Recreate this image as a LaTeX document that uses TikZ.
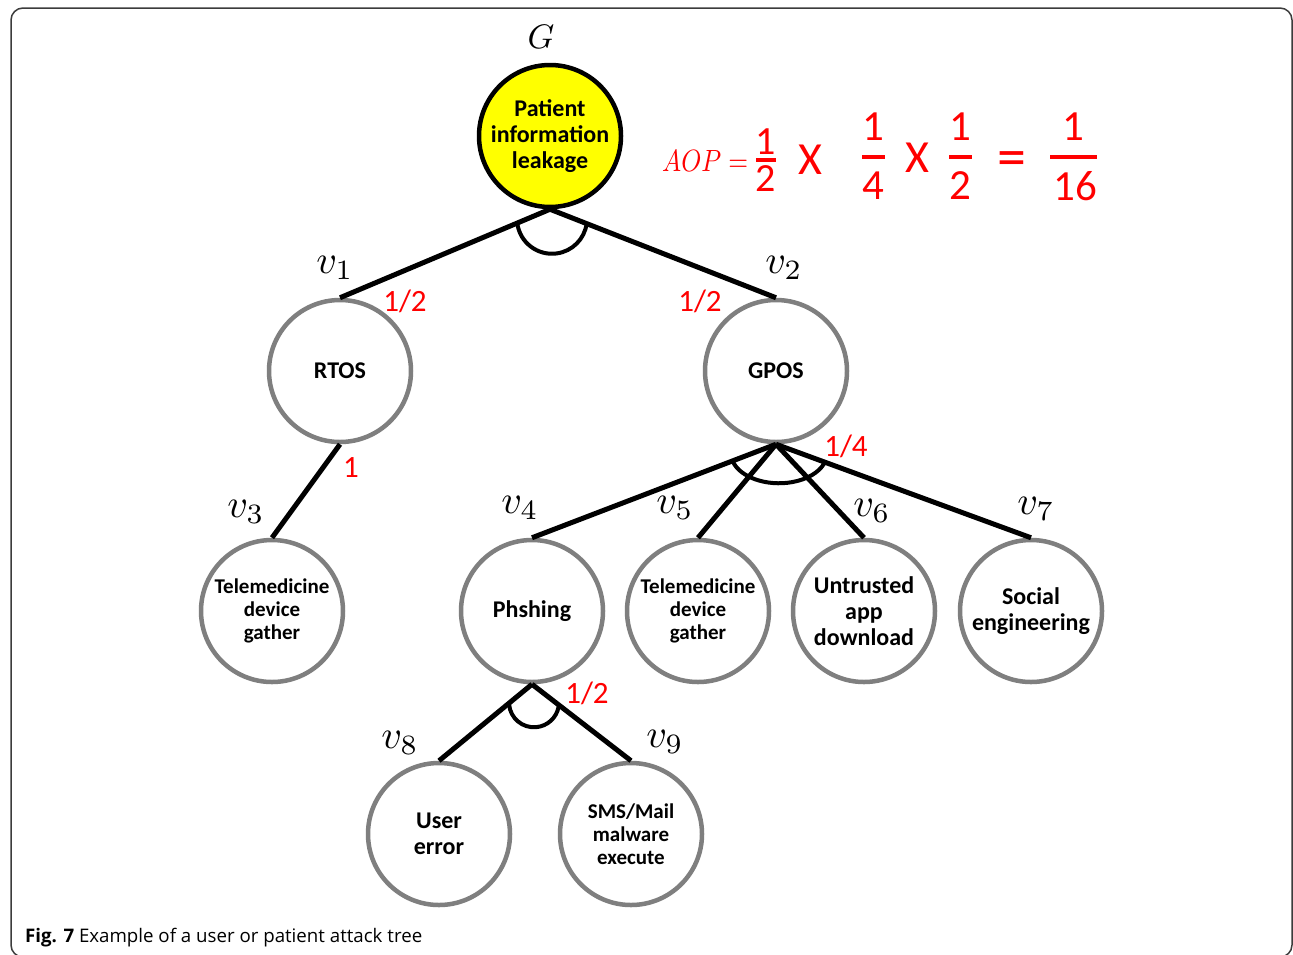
\documentclass[tikz,border=0pt]{standalone}
\usepackage{graphicx}
\usepackage{fontspec}
\setmainfont{Carlito}
\newfontfamily\capfont{Open Sans}
\usetikzlibrary{calc}

\definecolor{ringgray}{RGB}{127,127,127}
\definecolor{goalyellow}{RGB}{255,255,0}
\definecolor{probred}{RGB}{255,0,0}
\definecolor{framegray}{RGB}{60,60,60}

% math labels are set at 10pt and scaled up
\newcommand{\biglab}[2][4.0]{\scalebox{#1}{$#2$}}

\tikzset{
  goalnode/.style={circle, draw=black, line width=4.5pt, fill=goalyellow,
    minimum size=142pt, inner sep=0pt, align=center,
    font=\bfseries\fontsize{24}{26}\selectfont},
  attnode/.style={circle, draw=ringgray, line width=4.5pt, fill=white,
    minimum size=142pt, inner sep=0pt, align=center,
    font=\bfseries\fontsize{24}{26}\selectfont},
  smalltext/.style={font=\bfseries\fontsize{21}{23}\selectfont},
  edge/.style={line width=5pt, black},
  andarc/.style={line width=4pt, black},
  vlab/.style={inner sep=0pt, font=\fontsize{10}{12}\selectfont},
  prob/.style={inner sep=0pt, text=probred, font=\fontsize{31}{31}\selectfont},
  fdigit/.style={inner sep=0pt, text=probred, font=\fontsize{43}{43}\selectfont},
  fbar/.style={line width=4pt, probred},
}

\begin{document}
\begin{tikzpicture}[x=1pt, y=-1pt]
\useasboundingbox (0,0) rectangle (1293,954);
\clip (0,0) rectangle (1293,954);
\fill[white] (0,0) rectangle (1293,954);

% outer frame
\draw[framegray, line width=1.5pt, rounded corners=12pt] (11,8) rectangle (1292,957);

% tree nodes
\node[goalnode] (G) at (550,136) {Patient\\information\\leakage};
\node[attnode] (v1) at (340,371) {RTOS};
\node[attnode] (v2) at (776,371) {GPOS};
\node[attnode, smalltext] (v3) at (272,611) {Telemedicine\\device\\gather};
\node[attnode] (v4) at (532,611) {Phshing};
\node[attnode, smalltext] (v5) at (698,611) {Telemedicine\\device\\gather};
\node[attnode] (v6) at (864,611) {Untrusted\\app\\download};
\node[attnode] (v7) at (1031,611) {Social\\engineering};
\node[attnode] (v8) at (439,834) {User\\error};
\node[attnode, smalltext] (v9) at (631,834) {SMS/Mail\\malware\\execute};

% connectors
\draw[edge] (G.south) -- (v1.north);
\draw[edge] (G.south) -- (v2.north);
\draw[edge] (v1.south) -- (v3.north);
\draw[edge] (v2.south) -- (v4.north);
\draw[edge] (v2.south) -- (v5.north);
\draw[edge] (v2.south) -- (v6.north);
\draw[edge] (v2.south) -- (v7.north);
\draw[edge] (v4.south) -- (v8.north);
\draw[edge] (v4.south) -- (v9.north);

% AND arcs
\coordinate (gA) at ($(G.south)+(2,9.5)$);
\draw[andarc] ([shift={(188:35pt)}]gA) arc[start angle=188, end angle=352, radius=35pt];
\coordinate (gB) at ($(v2.south)+(3,9)$);
\draw[andarc] ([shift={(196:48pt and 30pt)}]gB) arc[start angle=196, end angle=340, x radius=48pt, y radius=30pt];
\coordinate (gC) at ($(v4.south)+(2,18)$);
\draw[andarc] ([shift={(185:25pt)}]gC) arc[start angle=185, end angle=350, radius=25pt];

% node labels
\node[vlab] (lG) at (541,37) {\biglab[3.4]{G}};
\node[vlab] (l1) at (335,268) {\biglab{v_1}};
\node[vlab] (l2) at (784,268) {\biglab{v_2}};
\node[vlab] (l3) at (246,512) {\biglab{v_3}};
\node[vlab] (l4) at (520,508) {\biglab{v_4}};
\node[vlab] (l5) at (675,508) {\biglab{v_5}};
\node[vlab] (l6) at (872,511) {\biglab{v_6}};
\node[vlab] (l7) at (1036,509) {\biglab{v_7}};
\node[vlab] (l8) at (400,743) {\biglab{v_8}};
\node[vlab] (l9) at (665,742) {\biglab{v_9}};

% probabilities
\node[prob] (p1) at (405,301) {1/2};
\node[prob] (p2) at (700,301) {1/2};
\node[prob] (p3) at (351,468) {1};
\node[prob] (p4) at (846,446) {1/4};
\node[prob] (p5) at (587,693) {1/2};

% AOP formula
\node[inner sep=0pt, anchor=base west, text=probred, font=\fontsize{10}{12}\selectfont] (aop) at (662,171)
  {\resizebox{86pt}{21pt}{$AOP=$}};
\node[fdigit, font=\fontsize{40}{40}\selectfont] (a1) at (766,142) {1};
\draw[fbar] (756,160) -- (776,160);
\node[fdigit, font=\fontsize{40}{40}\selectfont] (a2) at (766,179) {2};
\node[fdigit, font=\fontsize{46}{46}\selectfont] (x1) at (810,160) {X};
\node[fdigit] (b1) at (873,127) {1};
\draw[fbar] (862,157) -- (885,157);
\node[fdigit] (b2) at (873,186) {4};
\node[fdigit, font=\fontsize{46}{46}\selectfont] (x2) at (917,158) {X};
\node[fdigit] (c1) at (960,127) {1};
\draw[fbar] (949,157) -- (972,157);
\node[fdigit] (c2) at (960,186) {2};
\node[fdigit, font=\fontsize{58}{58}\selectfont] (eq) at (1012,164) {=};
\node[fdigit] (d1) at (1073,127) {1};
\draw[fbar] (1050,157) -- (1097,157);
\node[fdigit] (d2) at (1075,186) {16};

% caption
\node[inner sep=0pt, anchor=base west] (cap) at (25,942)
  {\resizebox{397pt}{!}{\capfont\textbf{Fig. 7} Example of a user or patient attack tree}};
\end{tikzpicture}
\end{document}
